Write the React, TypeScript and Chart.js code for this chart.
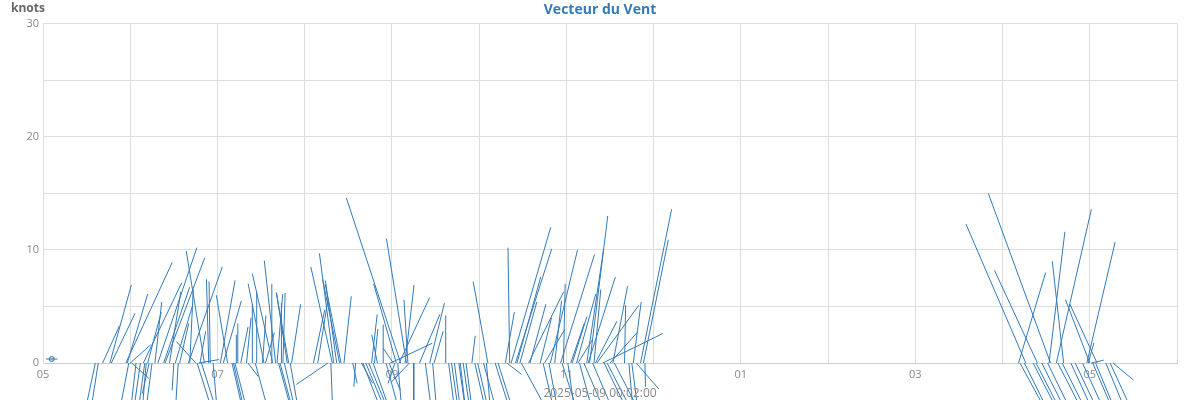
import React, { useEffect, useRef } from 'react';
import { Chart, registerables } from 'chart.js';

Chart.register(...registerables);

const CHART_TITLE = 'Vecteur du Vent';
const Y_UNIT = 'knots';
const X_TITLE = '2025-05-09 00:02:00';

// observation times (local, 24h)
const times = [
    '05:36', '05:38', '05:41', '05:46', '05:47', '05:57', '05:58', '05:59', '06:00', '06:01',
    '06:04', '06:07', '06:09', '06:10', '06:11', '06:12', '06:13', '06:15', '06:17', '06:19',
    '06:23', '06:24', '06:27', '06:30', '06:31', '06:33', '06:34', '06:40', '06:41', '06:45',
    '06:46', '06:47', '06:48', '06:49', '06:51', '06:54', '06:55', '06:57', '07:02', '07:04',
    '07:07', '07:10', '07:11', '07:12', '07:13', '07:14', '07:16', '07:20', '07:21', '07:24',
    '07:26', '07:27', '07:31', '07:32', '07:33', '07:37', '07:38', '07:40', '07:41', '07:42',
    '07:43', '07:44', '07:45', '07:46', '07:48', '07:49', '07:50', '07:51', '08:06', '08:09',
    '08:16', '08:18', '08:19', '08:20', '08:22', '08:24', '08:25', '08:27', '08:33', '08:35',
    '08:39', '08:40', '08:42', '08:44', '08:46', '08:47', '08:48', '08:50', '08:54', '08:56',
    '08:58', '08:59', '09:01', '09:02', '09:03', '09:04', '09:05', '09:06', '09:09', '09:10',
    '09:11', '09:12', '09:15', '09:19', '09:23', '09:26', '09:28', '09:29', '09:37', '09:39',
    '09:41', '09:43', '09:46', '09:47', '09:49', '09:51', '09:55', '09:57', '09:59', '10:03',
    '10:05', '10:06', '10:11', '10:13', '10:18', '10:19', '10:21', '10:22', '10:25', '10:26',
    '10:28', '10:29', '10:34', '10:35', '10:42', '10:44', '10:45', '10:48', '10:49', '10:52',
    '10:56', '10:57', '10:58', '11:01', '11:03', '11:04', '11:07', '11:08', '11:09', '11:12',
    '11:14', '11:15', '11:16', '11:18', '11:19', '11:20', '11:21', '11:25', '11:26', '11:28',
    '11:30', '11:32', '11:33', '11:40', '11:43', '11:45', '11:46', '11:48', '11:51', '11:53',
    '11:54', '16:11', '16:12', '16:15', '16:16', '16:21', '16:23', '16:24', '16:27', '16:31',
    '16:32', '16:33', '16:37', '16:38', '16:41', '16:42', '16:47', '16:50', '16:55', '16:58',
    '16:59', '17:00', '17:01', '17:02', '17:04', '17:05', '17:11', '17:14', '17:16',
];

// east component of the wind vector, knots
const windU = [
    -1.7, -1.1, 1.5, 1.9, 2.1, 4.1, 1.8, -1.15, 1.8, 1.5,
    -0.8, -1.0, 3.4, -1.1, -0.6, 1.2, -0.6, -0.9, 0.6, 3.45,
    2.3, 3.5, 1.0, -0.15, 1.5, -0.4, 0.8, 3.0, 0.3, -1.7,
    2.2, 1.8, 0.5, 2.2, -1.6, -0.2, -0.1, 0.6, 1.3, 1.6,
    -1.0, 1.6, 1.6, 1.8, 0, 0, 0.65, 0.4, 0.9, 0,
    1.9, 0, 0.3, -1.4, 0.8, 0.05, -1.8, -1.0, 0.5, 1.9,
    1.9, 0, 0.2, 1.6, -0.95, -1.1, 1.4, 0.8, 1.0, 0.9,
    -2.8, 0.3, -1.9, -1.27, -1.0, -1.5, -1.4, 0.65, 0.4, -0.15,
    1.0, 2.7, 2.9, 2.9, 0.5, 2.5, 0.3, -0.5, 0, 1.9,
    1.0, 3.7, -0.9, -0.6, -2.0, 0.6, 2.7, -4.8, 0.8, -1.77,
    -0.35, -1.6, 0, 1.8, 0.9, 1.3, 0.6, 0.8, 0, 0.9,
    1.0, 0.9, 1.0, 0.8, 1.0, 0.9, 0.3, 1.6, 1.6, 1.9,
    0.6, -1.3, 2.2, 2.2, 0.8, 1.3, -0.15, 3.5, 3.2, 2.1,
    1.5, 3.8, 3.1, 1.4, 1.0, 1.6, 1.8, 1.3, 2.4, 0.6,
    3.0, 2.2, 0.15, 1.0, 1.2, 1.3, 1.7, 1.3, 1.9, 3.0,
    1.5, 2.4, 1.6, 3.0, 0.6, 1.9, 3.7, 5.3, 3.4, 3.6,
    2.4, 1.3, 3.6, 0.1, 0.6, 0.9, 0.7, 2.0, 2.75, 2.2,
    0.05, 2.4, 3.8, 3.5, -5.3, 3.6, 3.6, -3.8, 3.5, 3.4,
    1.4, -5.5, 3.1, 3.6, 3.5, -1.0, 3.2, 3.3, 3.2, 2.5,
    0.5, -2.15, 1.1, 3.0, 2.9, -2.4, 2.9, 3.2, 1.8,
];

// north component of the wind vector, knots
const windV = [
    -8, -7, 3.3, 6.9, 4.4, 8.9, 6.1, -6, 1.6, -1.35,
    -7, -7, 7.1, -8, -7, 4.5, -2.7, -7, 5.4, 10.2,
    6.7, 9.3, 6.3, -2.4, 5.0, -7, 3.5, 8.5, 6.5, 1.9,
    -7, 0.3, 2.8, -7, 9.9, 7.4, 7.2, -7, 7.3, 5.5,
    6.0, -7, -7, -7, 2.5, 3.5, 3.2, 4.0, -1.2, 5.2,
    -7, 6.3, 4.2, 7.0, 2.7, 7.0, 7.9, 9.05, 6.1, -7,
    -7, 5.3, 6.2, -7, 6.2, 6.25, -8, 5.2, 4.7, 5.6,
    -1.9, -8, 8.5, 9.7, 7.3, 7.4, 7.0, 5.9, -1.8, -2.1,
    -1.8, -7, -7, -7, 4.3, -7, 3.0, 2.5, 3.4, -7,
    -2.4, 1.75, 1.3, -1.8, 7.0, -7, 5.8, 14.6, 6.9, 11.0,
    5.6, -1.7, -7, 4.3, -7, 5.3, -7, 2.8, 4.2, -7,
    -7, -7, -7, -7, -7, -7, 2.4, -7, -7, -7,
    -7, 7.2, -7, -7, 4.5, -1.0, 10.2, 12.0, 10.1, 7.6,
    5.4, -7, 6.3, 5.2, 4.0, -7, 3.0, -7, 10.0, 5.5,
    9.6, -7, 7.0, -7, 3.5, 4.1, 6.1, 2.1, -7, -7,
    10.1, 7.6, 13.0, -7, 6.5, 3.7, 5.1, 2.6, -7, -7,
    2.7, 6.8, -7, 5.1, -7, -7, 5.4, -2.3, 13.6, 10.9,
    -2.1, 8.0, -7, -7, 12.3, -7, -7, 8.2, -7, -7,
    11.6, 15.0, 13.6, -7, -7, 9.0, -7, -7, -7, 10.7,
    1.8, 5.6, 0.25, -7, -7, 5.2, -7, -7, -1.5,
];

// calm reading shown as a small marker near the start
const calmTimes = ['05:02', '05:06', '05:10'];
const calmLevel = 0.35;

const Y_TICKS = [0, 10, 20, 30];

// plot aspect: 1 knot on the y axis covers as many pixels as this many hours on x
const HOURS_PER_KNOT = 0.1296;

const BLUE = '#337ab7';

const toHours = (s) => {
    const [h, m] = s.split(':').map(Number);
    return h + m / 60;
};

const hourLabel = (value) => {
    if (value % 2 === 0) return '';
    const h = value % 12 || 12;
    return String(h).padStart(2, '0');
};

// unit above the y axis and the timestamp caption under the chart
const captions = {
    id: 'captions',
    afterDraw(chart) {
        const { ctx, width } = chart;
        ctx.save();
        ctx.font = "bold 12px 'Open Sans'";
        ctx.fillStyle = '#666';
        ctx.textAlign = 'left';
        ctx.textBaseline = 'middle';
        ctx.fillText(Y_UNIT, 11, 9);
        ctx.font = "12px 'Open Sans'";
        ctx.fillStyle = '#888';
        ctx.textAlign = 'center';
        ctx.fillText(X_TITLE, width / 2, 394);
        ctx.restore();
    },
};

const WindVectorChart = () => {
    const chartRef = useRef(null);
    const chartInstanceRef = useRef(null);

    useEffect(() => {
        if (!chartRef.current) return;
        const ctx = chartRef.current.getContext('2d');
        if (!ctx) return;

        Chart.defaults.font.family = "'Open Sans', sans-serif";

        // every vector: base on the zero line, tip at (u, v), then a gap
        const vectorPoints = [];
        times.forEach((t, i) => {
            const x = toHours(t);
            vectorPoints.push({ x, y: 0 });
            vectorPoints.push({ x: x + windU[i] * HOURS_PER_KNOT, y: windV[i] });
            vectorPoints.push({ x, y: null });
        });

        const calmPoints = calmTimes.map(t => ({ x: toHours(t), y: calmLevel }));

        chartInstanceRef.current = new Chart(ctx, {
            type: 'line',
            data: {
                datasets: [
                    {
                        label: 'Vent',
                        data: vectorPoints,
                        borderColor: BLUE,
                        borderWidth: 1,
                        pointRadius: 0,
                        spanGaps: false,
                        clip: false,
                    },
                    {
                        label: 'Calme',
                        data: calmPoints,
                        borderColor: BLUE,
                        backgroundColor: 'rgba(51,122,183,0.25)',
                        borderWidth: 1,
                        pointRadius: [0, 2.5, 0],
                    },
                ],
            },
            options: {
                animation: false,
                responsive: true,
                maintainAspectRatio: false,
                layout: { padding: 0 },
                scales: {
                    x: {
                        type: 'linear',
                        min: 5,
                        max: 18,
                        afterFit: (scale) => { scale.height = 37; },
                        ticks: {
                            stepSize: 1,
                            autoSkip: false,
                            maxRotation: 0,
                            padding: 5,
                            color: '#888',
                            font: { size: 11 },
                            callback: (value) => hourLabel(value),
                        },
                        grid: { color: '#dddddd', drawTicks: false },
                        border: { color: '#cccccc' },
                    },
                    y: {
                        min: 0,
                        max: 30,
                        afterFit: (scale) => { scale.width = 43; },
                        ticks: {
                            stepSize: 5,
                            padding: 4,
                            color: '#888',
                            font: { size: 11 },
                            callback: (value) => (Y_TICKS.includes(value) ? value : ''),
                        },
                        grid: { color: '#dddddd', drawTicks: false },
                        border: { color: '#dddddd' },
                    },
                    // empty right-hand margin so the plot ends where the reference does
                    yRight: {
                        position: 'right',
                        min: 0,
                        max: 30,
                        afterFit: (scale) => { scale.width = 23; },
                        ticks: { display: false },
                        grid: { display: false, drawTicks: false },
                        border: { display: false },
                    },
                },
                plugins: {
                    legend: { display: false },
                    tooltip: { enabled: false },
                    title: {
                        display: true,
                        text: CHART_TITLE,
                        color: BLUE,
                        font: { size: 14, weight: 'bold' },
                        padding: { top: 2, bottom: 5 },
                    },
                },
            },
            plugins: [captions],
        });

        return () => {
            if (chartInstanceRef.current) {
                chartInstanceRef.current.destroy();
                chartInstanceRef.current = null;
            }
        };
    }, []);

    return (
        <div style={{ position: 'fixed', left: 0, top: 0, width: '1200px', height: '400px' }}>
            <canvas ref={chartRef} />
        </div>
    );
};

export default function App() {
    return <WindVectorChart />;
}
